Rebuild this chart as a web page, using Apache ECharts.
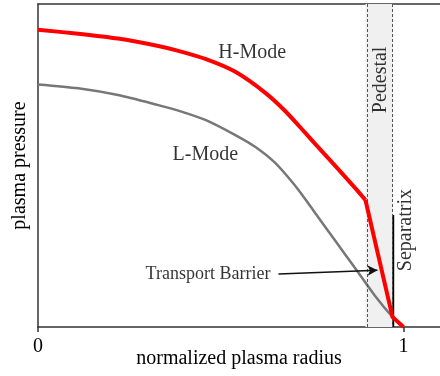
<!DOCTYPE html>
<html><head><meta charset="utf-8">
<script src="https://cdn.jsdelivr.net/npm/echarts@6/dist/echarts.min.js"></script>
<style>html,body{margin:0;padding:0;background:#fff}#c{width:440px;height:376px}</style>
</head><body><div id="c"></div>
<script>
// ---- data ----
var xTicks = [0, 1];
var lModeX = [0, 0.110, 0.219, 0.329, 0.384, 0.458, 0.540, 0.595, 0.649, 0.696, 0.732, 0.759, 0.814, 0.868, 0.923, 0.970, 1.0];
var lModeY = [0.751, 0.739, 0.718, 0.687, 0.670, 0.641, 0.594, 0.557, 0.508, 0.448, 0.395, 0.352, 0.266, 0.182, 0.095, 0.031, 0.0];
var hModeX = [0, 0.110, 0.219, 0.329, 0.384, 0.458, 0.540, 0.622, 0.677, 0.732, 0.759, 0.814, 0.868, 0.896];
var hModeY = [0.920, 0.908, 0.893, 0.870, 0.855, 0.830, 0.790, 0.725, 0.668, 0.600, 0.566, 0.498, 0.430, 0.393];
var barrierX = [0.896, 0.970, 1.0];
var barrierY = [0.393, 0.031, 0.0];
var pedestalStart = 0.896;
var pedestalEnd = 0.972;
var separatrixX = [0.972, 0.972];
var separatrixY = [0, 0.347];
var arrowFrom = [0.658, 0.164];
var arrowTo = [0.929, 0.176];
var labelTexts = ['H-Mode', 'L-Mode', 'Transport Barrier', 'Pedestal', 'Separatrix'];
var labelX = [0.586, 0.458, 0.636, 0.937, 1.005];
var labelY = [0.848, 0.533, 0.164, 0.765, 0.30];

function zip(a, b) { return a.map(function (v, i) { return [v, b[i]]; }); }
var FONT = "'Liberation Serif','Times New Roman',serif";
var AX = '#333';

var labelStyles = [
  {fontSize: 20},
  {fontSize: 20},
  {fontSize: 18, align: 'right'},
  {fontSize: 20, rotate: 90},
  {fontSize: 20, rotate: 90}
];
var annot = labelTexts.map(function (t, i) {
  var s = labelStyles[i];
  return {
    value: [labelX[i], labelY[i]], name: t,
    label: {show: true, position: 'inside', formatter: t, color: '#000',
      fontFamily: FONT, fontSize: s.fontSize, rotate: s.rotate || 0,
      align: s.align || 'center', verticalAlign: 'middle'}
  };
});

var chart = echarts.init(document.getElementById('c'), null, {renderer: 'canvas'});
chart.setOption({
  animation: false,
  grid: {left: 38, right: 0, top: 4, bottom: 49, containLabel: false, outerBoundsMode: 'none'},
  xAxis: [{
    type: 'value', min: 0, max: 1.1, interval: 1,
    name: 'normalized plasma radius', nameLocation: 'middle', nameGap: 22,
    nameMoveOverlap: false,
    nameTextStyle: {fontFamily: FONT, fontSize: 20, color: '#000'},
    axisLine: {show: true, lineStyle: {color: AX, width: 1.5}},
    axisTick: {show: true, length: 5, lineStyle: {color: AX, width: 1.5},
      customValues: xTicks},
    axisLabel: {fontFamily: FONT, fontSize: 20, color: '#000', margin: 10,
      customValues: xTicks,
      formatter: function (v) { return xTicks.indexOf(v) >= 0 ? String(v) : ''; }},
    splitLine: {show: false}
  }, {
    type: 'value', position: 'top', min: 0, max: 1.1,
    axisLine: {show: true, lineStyle: {color: AX, width: 1.5}},
    axisTick: {show: false}, axisLabel: {show: false}, splitLine: {show: false}
  }],
  yAxis: {
    type: 'value', min: 0, max: 1,
    name: 'plasma pressure', nameLocation: 'middle', nameGap: 8,
    nameMoveOverlap: false,
    nameTextStyle: {fontFamily: FONT, fontSize: 20, color: '#000'},
    axisLine: {show: true, lineStyle: {color: AX, width: 1.5}},
    axisTick: {show: false}, axisLabel: {show: false}, splitLine: {show: false}
  },
  series: [
    {
      type: 'line', data: [], z: 1,
      markArea: {silent: true, itemStyle: {color: '#f0f0f0'},
        data: [[{xAxis: pedestalStart}, {xAxis: pedestalEnd}]]},
      markLine: {silent: true, symbol: ['none', 'none'], label: {show: false},
        lineStyle: {color: '#555', type: [3, 2], width: 1},
        data: [{xAxis: pedestalStart}, {xAxis: pedestalEnd}]}
    },
    {
      type: 'line', data: zip(lModeX, lModeY), smooth: 0.25,
      showSymbol: false, z: 3, lineStyle: {color: '#777', width: 2.5}
    },
    {
      type: 'line', data: zip(separatrixX, separatrixY), showSymbol: false, z: 4,
      lineStyle: {color: '#000', width: 2}
    },
    {
      type: 'line', data: zip(hModeX, hModeY), smooth: 0.25,
      showSymbol: false, z: 5, lineStyle: {color: '#ff0000', width: 4}
    },
    {
      type: 'line', data: zip(barrierX, barrierY), showSymbol: false, z: 5,
      lineStyle: {color: '#ff0000', width: 4, join: 'miter'}
    },
    {
      type: 'line', data: [], z: 6,
      markLine: {silent: true, symbol: ['none', 'arrow'], symbolSize: [8, 10],
        label: {show: false}, lineStyle: {color: '#111', type: 'solid', width: 1.5},
        data: [[{coord: arrowFrom}, {coord: arrowTo}]]}
    },
    {
      type: 'scatter', symbolSize: 0, z: 7, data: annot, silent: true
    }
  ]
});
</script></body></html>
